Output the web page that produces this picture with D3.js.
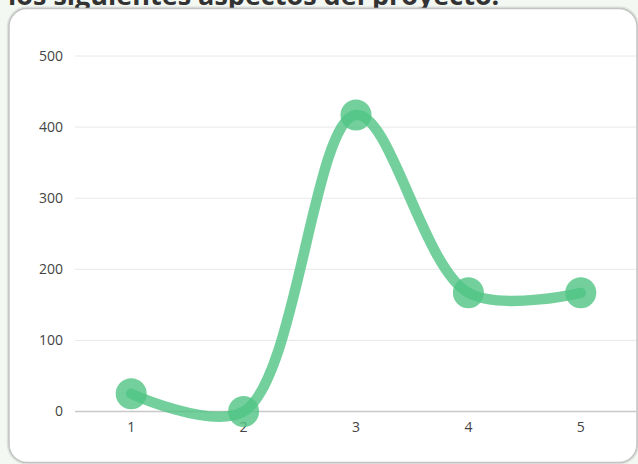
<!DOCTYPE html>
<html>
<head>
<meta charset="utf-8">
<script src="https://cdn.jsdelivr.net/npm/d3@7"></script>
<style>
  html, body { margin: 0; padding: 0; background: #f3f8f3; }
  svg { display: block; }
</style>
</head>
<body>
<svg id="chart" width="638" height="464"></svg>
<script>
const categories = ["1", "2", "3", "4", "5"];
const values = [25, 0, 417, 167, 167];
const yTicks = [0, 100, 200, 300, 400, 500];
const titleText = "los siguientes aspectos del proyecto:";

const svg = d3.select("#chart");
const W = 638, H = 464;

svg.append("rect").attr("width", W).attr("height", H).attr("fill", "#f3f8f3");

const defs = svg.append("defs");
const f = defs.append("filter").attr("id", "sh").attr("x", "-5%").attr("y", "-5%").attr("width", "110%").attr("height", "110%");
f.append("feGaussianBlur").attr("in", "SourceAlpha").attr("stdDeviation", 1).attr("result", "b");
f.append("feOffset").attr("in", "b").attr("dx", 0).attr("dy", 0).attr("result", "o");
f.append("feComponentTransfer").attr("in", "o").attr("result", "o2")
  .append("feFuncA").attr("type", "linear").attr("slope", 0.35);
const m = f.append("feMerge");
m.append("feMergeNode").attr("in", "o2");
m.append("feMergeNode").attr("in", "SourceGraphic");

// title (last line, cut off at top as in the reference)
const title = svg.append("text")
  .attr("x", 8).attr("y", 5)
  .attr("font-family", "'Open Sans', sans-serif")
  .attr("font-weight", 700)
  .attr("font-size", 27)
  .attr("fill", "#333")
  .text(titleText);
const tw = title.node().getComputedTextLength();
if (tw > 0 && Math.abs(tw - 489) > 4) title.attr("textLength", 489).attr("lengthAdjust", "spacingAndGlyphs");

// card
svg.append("rect")
  .attr("x", 9).attr("y", 8.5).attr("width", 628).attr("height", 454)
  .attr("rx", 18).attr("ry", 18)
  .attr("fill", "#fff").attr("stroke", "#c4c4c4").attr("stroke-width", 1.5)
  .attr("filter", "url(#sh)");

const x = d3.scalePoint().domain(categories).range([75, 637]).padding(0.5);
const y = d3.scaleLinear().domain([0, 500]).range([411.5, 56]);

// grid
const grid = svg.append("g");
grid.selectAll("line").data(yTicks).join("line")
  .attr("x1", 75).attr("x2", 636)
  .attr("y1", d => y(d)).attr("y2", d => y(d))
  .attr("stroke", d => d === 0 ? "#c8c8c8" : "#e8e8e8")
  .attr("stroke-width", d => d === 0 ? 1.5 : 1);

// y labels
svg.append("g").selectAll("text").data(yTicks).join("text")
  .attr("x", 63).attr("y", d => y(d))
  .attr("dy", "0.35em")
  .attr("text-anchor", "end")
  .attr("font-family", "'Open Sans', sans-serif")
  .attr("font-size", 14)
  .attr("fill", "#444")
  .text(d => d);

// x labels
svg.append("g").selectAll("text").data(categories).join("text")
  .attr("x", d => x(d)).attr("y", 432)
  .attr("text-anchor", "middle")
  .attr("font-family", "'Open Sans', sans-serif")
  .attr("font-size", 14)
  .attr("fill", "#444")
  .text(d => d);

const col = "rgba(80,196,133,0.8)";
const data = categories.map((c, i) => ({ c, v: values[i] }));

const line = d3.line()
  .x(d => x(d.c)).y(d => y(d.v))
  .curve(d3.curveCatmullRom.alpha(0.5));

svg.append("path").datum(data)
  .attr("d", line)
  .attr("fill", "none")
  .attr("stroke", col)
  .attr("stroke-width", 10.5)
  .attr("stroke-linecap", "round");

svg.append("g").selectAll("circle").data(data).join("circle")
  .attr("cx", d => x(d.c)).attr("cy", d => y(d.v))
  .attr("r", 15.5)
  .attr("fill", col);
</script>
</body>
</html>
